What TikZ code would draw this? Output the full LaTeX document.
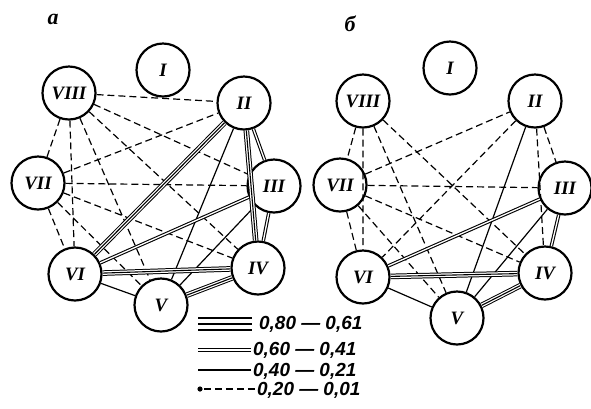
\documentclass[tikz,border=0pt]{standalone}
\usepackage{fontspec}
\setmainfont{Liberation Serif}
\newfontfamily\legfont{Liberation Sans}
\tikzset{
	vert/.style={circle,draw,line width=2.2pt,fill=white,minimum size=53bp,inner sep=0pt,
		font=\fontsize{19}{19}\selectfont\bfseries\itshape},
	one/.style={line width=1.2pt},
	two/.style={double,double distance=1.3pt,line width=1.1pt},
	three/.style={line width=5.6pt,postaction={draw=white,line width=3.6pt},
		postaction={draw=black,line width=1.1pt}},
	dsh/.style={line width=1.2pt,dash pattern=on 7pt off 4pt},
	leg/.style={anchor=west,inner sep=0pt,font=\legfont\fontsize{19}{19}\selectfont\bfseries\itshape},
	lbl/.style={font=\fontsize{22}{22}\selectfont\bfseries\itshape}
}
\begin{document}
\begin{tikzpicture}[x=1bp,y=-1bp]
	\useasboundingbox (0,0) rectangle (591,408);
	% panel a
	\node[lbl] (grlbla) at (53,19) {а};
	\node[vert] (grai) at (163,70) {I};
	\node[vert] (graii) at (244,103) {II};
	\node[vert] (graiii) at (274,186) {III};
	\node[vert] (graiv) at (258,268) {IV};
	\node[vert] (grav) at (161,305) {V};
	\node[vert] (gravi) at (75,274) {VI};
	\node[vert] (gravii) at (38,183) {VII};
	\node[vert] (graviii) at (69,93) {VIII};
	\draw[dsh] (graviii)--(graii) (graviii)--(gravii) (graviii)--(gravi) (graviii)--(grav)
		(graviii)--(graiv) (graviii)--(graiii)
		(gravii)--(graii) (gravii)--(graiii) (gravii)--(graiv) (gravii)--(grav) (gravii)--(gravi);
	\draw[one] (graii)--(grav) (graiii)--(grav) (gravi)--(grav);
	\draw[two] (graii)--(graiii) (graiii)--(gravi) (graiii)--(graiv);
	\draw[three] (graii)--(gravi) (graii)--(graiv) (gravi)--(graiv) (grav)--(graiv);
	% panel b
	\node[lbl] (grlblb) at (350,24) {б};
	\node[vert] (grbi) at (450,68) {I};
	\node[vert] (grbii) at (535,101) {II};
	\node[vert] (grbiii) at (565,188) {III};
	\node[vert] (grbiv) at (545,273) {IV};
	\node[vert] (grbv) at (457,318) {V};
	\node[vert] (grbvi) at (363,277) {VI};
	\node[vert] (grbvii) at (340,185) {VII};
	\node[vert] (grbviii) at (363,101) {VIII};
	\draw[dsh] (grbviii)--(grbvii) (grbviii)--(grbvi) (grbviii)--(grbv) (grbviii)--(grbiv)
		(grbvii)--(grbii) (grbvii)--(grbiii) (grbvii)--(grbiv) (grbvii)--(grbv) (grbvii)--(grbvi)
		(grbii)--(grbvi) (grbii)--(grbiv) (grbii)--(grbiii);
	\draw[one] (grbii)--(grbv) (grbiii)--(grbv) (grbvi)--(grbv);
	\draw[two] (grbiii)--(grbvi) (grbiii)--(grbiv);
	\draw[three] (grbvi)--(grbiv) (grbv)--(grbiv);
	% legend
	\node[leg] (lgone) at (259,324) {0,80 — 0,61};
	\node[leg] (lgtwo) at (253,350) {0,60 — 0,41};
	\node[leg] (lgthree) at (253,371) {0,40 — 0,21};
	\node[leg] (lgfour) at (257,390) {0,20 — 0,01};
	\draw[one] (198,318)--(252,318) (198,324)--(252,324) (198,330)--(252,330);
	\draw[two] (198,350)--(251,350);
	\draw[one,line width=1.5pt] (198,370)--(251,370);
	\draw[dsh] (204,389)--(256,389);
	\fill (200,389) circle (2.6);
\end{tikzpicture}
\end{document}
